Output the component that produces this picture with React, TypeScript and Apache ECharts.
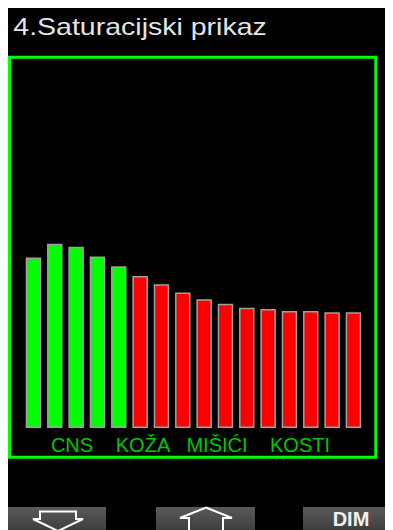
import { useEffect, useRef } from 'react';
import * as echarts from 'echarts';

const compartments = ['1', '2', '3', '4', '5', '6', '7', '8', '9', '10', '11', '12', '13', '14', '15', '16'];
const saturation = [56.8, 61.4, 60.4, 57.2, 53.9, 50.7, 47.9, 45.2, 42.9, 41.4, 40.1, 39.7, 39.0, 39.0, 38.6, 38.6];
const cnsCompartments = 5;
const groupLabels = ['CNS', 'KOŽA', 'MIŠIĆI', 'KOSTI'];
const titleText = '4.Saturacijski prikaz';
const buttonText = 'DIM';

const groupLabelX = [64, 135, 209, 292];
const FONT = '"Liberation Sans", Arial, Helvetica, sans-serif';

export default function App() {
  const ref = useRef<HTMLDivElement>(null);

  useEffect(() => {
    document.documentElement.style.overflow = 'hidden';
    document.body.style.overflow = 'hidden';
    const chart = echarts.init(ref.current!, null, { renderer: 'svg' });
    const btnFill = new echarts.graphic.LinearGradient(0, 0, 0, 1, [
      { offset: 0, color: '#5a5a5a' },
      { offset: 1, color: '#363636' },
    ]);
    chart.setOption({
      animation: false,
      backgroundColor: '#000000',
      grid: { left: 14.8, width: 341.3, top: 120, height: 300 },
      xAxis: { type: 'category', data: compartments, show: false },
      yAxis: { type: 'value', min: 0, max: 100, show: false },
      series: [
        {
          type: 'bar',
          barWidth: 15.5,
          data: saturation.map((v, i) => ({
            value: v,
            itemStyle: { color: i < cnsCompartments ? '#00ff00' : '#ff0000' },
          })),
          itemStyle: { borderColor: '#a0a0a0', borderWidth: 1.5 },
        },
      ],
      graphic: [
        {
          type: 'rect',
          shape: { x: 1.5, y: 49.3, width: 366.3, height: 400 },
          style: { fill: 'none', stroke: '#00ff00', lineWidth: 3 },
        },
        {
          type: 'text',
          x: 5.3,
          y: 19,
          scaleX: 1.24,
          style: {
            text: titleText,
            fill: '#e4e4e4',
            fontSize: 23,
            fontFamily: FONT,
            align: 'left',
            verticalAlign: 'middle',
          },
        },
        ...groupLabels.map((t, i) => ({
          type: 'text',
          x: groupLabelX[i],
          y: 436.5,
          style: {
            text: t,
            fill: '#00c800',
            fontSize: 20,
            fontFamily: FONT,
            align: 'center',
            verticalAlign: 'middle',
          },
        })),
        { type: 'rect', shape: { x: 0, y: 499, width: 98, height: 30 }, style: { fill: btnFill } },
        { type: 'rect', shape: { x: 148, y: 499, width: 99, height: 30 }, style: { fill: btnFill } },
        { type: 'rect', shape: { x: 295, y: 499, width: 95, height: 30 }, style: { fill: btnFill } },
        {
          type: 'polygon',
          shape: {
            points: [
              [32, 503.5], [68, 503.5], [68, 511], [75, 511], [50, 523], [25, 511], [32, 511],
            ],
          },
          style: { fill: 'none', stroke: '#ffffff', lineWidth: 2 },
        },
        {
          type: 'polygon',
          shape: {
            points: [
              [198, 499.5], [224, 510], [215, 510], [215, 525], [181, 525], [181, 510], [172, 510],
            ],
          },
          style: { fill: 'none', stroke: '#ffffff', lineWidth: 2 },
        },
        {
          type: 'text',
          x: 343,
          y: 511,
          style: {
            text: buttonText,
            fill: '#f0f0f0',
            fontSize: 20,
            fontWeight: 'bold',
            fontFamily: FONT,
            align: 'center',
            verticalAlign: 'middle',
          },
        },
      ],
    });
    return () => chart.dispose();
  }, []);

  return <div ref={ref} style={{ width: 385, height: 522, background: '#000' }} />;
}
